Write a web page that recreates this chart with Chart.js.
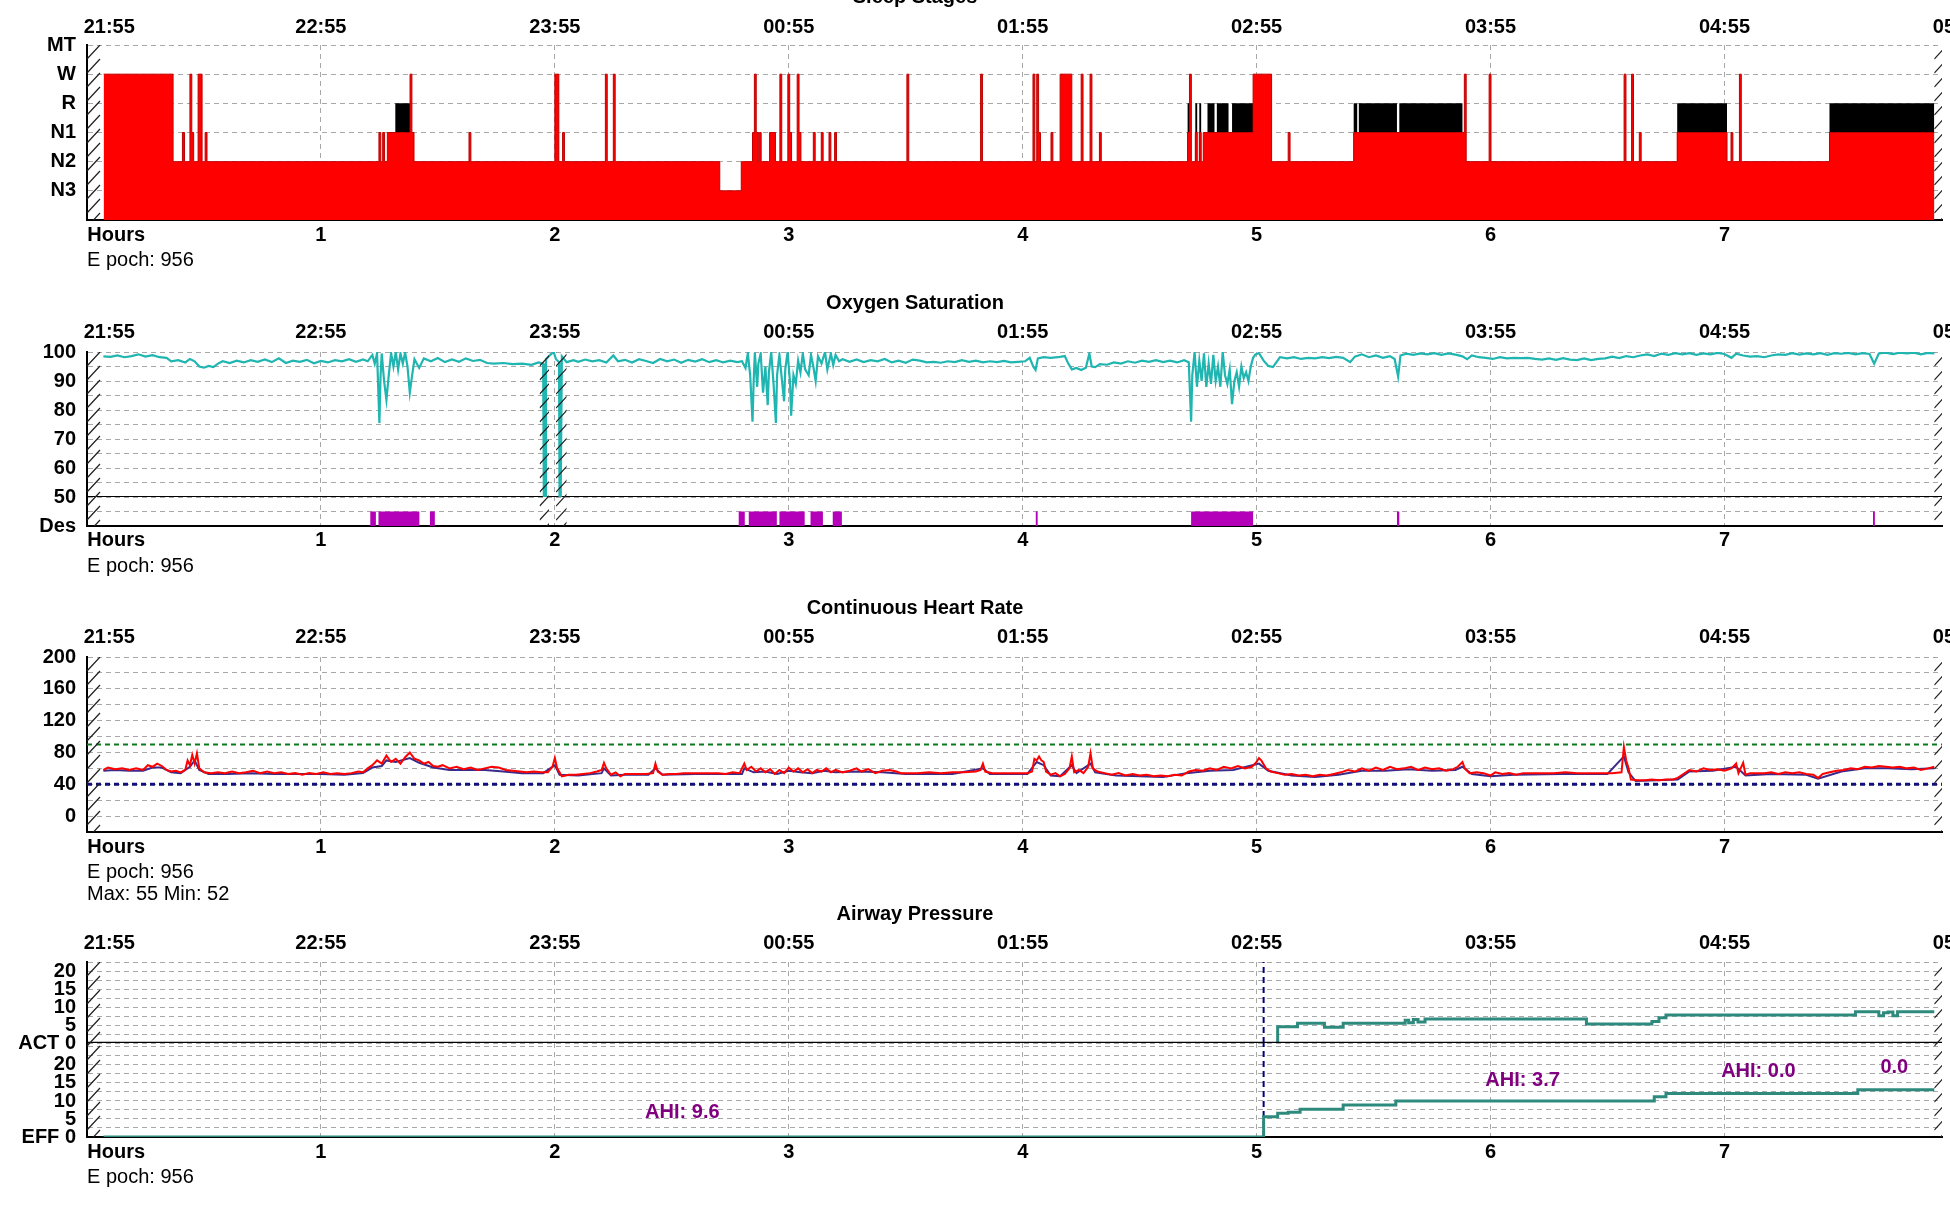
<!DOCTYPE html>
<html>
<head>
<meta charset="utf-8">
<script src="https://cdn.jsdelivr.net/npm/chart.js@4/dist/chart.umd.min.js"></script>
<style>
  html, body { margin: 0; background: #fff; }
  body { width: 1950px; height: 1205px; overflow: hidden; position: relative; }
  canvas { position: absolute; left: 0; }
</style>
</head>
<body>
<canvas id="stages" width="2000" height="285" style="top:0px"></canvas>
<canvas id="oxygen" width="2000" height="295" style="top:285px"></canvas>
<canvas id="heart" width="2000" height="312" style="top:588px"></canvas>
<canvas id="airway" width="2000" height="305" style="top:900px"></canvas>
<script>
// ---- data ----
const timeLabels = ['21:55', '22:55', '23:55', '00:55', '01:55', '02:55', '03:55', '04:55', '05:55'];
const hourLabels = ['Hours', '1', '2', '3', '4', '5', '6', '7'];
const stageNames = ['', 'N3', 'N2', 'N1', 'R', 'W', 'MT'];
const recordStart = 0.071;
const recordEnd = 7.897;
const epochNote = 'E poch: 956';
const hrNote = 'Max: 55 Min: 52';

// hypnogram: hour where each stage begins
const hypnoStart = [
  0.071, 0.368, 0.408, 0.417, 0.440, 0.448, 0.456, 0.475, 0.492, 0.505, 0.513,
  1.248, 1.256, 1.264, 1.272, 1.284, 1.318, 1.381, 1.389, 1.398, 1.633, 1.641,
  2.000, 2.017, 2.033, 2.041, 2.216, 2.224, 2.250, 2.258, 2.705, 2.797,
  2.845, 2.853, 2.861, 2.870, 2.874, 2.882, 2.918, 2.943, 2.962, 2.970, 2.996, 3.004, 3.012, 3.036, 3.044, 3.052,
  3.105, 3.113, 3.139, 3.147, 3.172, 3.180, 3.196, 3.204,
  3.505, 3.513, 3.820, 3.828,
  4.044, 4.052, 4.060, 4.068, 4.076, 4.121, 4.129, 4.160, 4.210, 4.250, 4.258, 4.288, 4.296, 4.328, 4.336,
  4.705, 4.713, 4.721, 4.738, 4.746, 4.755, 4.763, 4.772, 4.790, 4.820, 4.830, 4.880, 4.895, 4.985,
  5.064, 5.135, 5.143, 5.415, 5.430, 5.437, 5.600, 5.610, 5.880, 5.888, 5.896,
  5.994, 6.002, 6.571, 6.579, 6.603, 6.611, 6.636, 6.644, 6.798,
  7.011, 7.028, 7.036, 7.064, 7.072, 7.449
];
const hypnoStage = [
  'W', 'N2', 'N1', 'N2', 'W', 'N1', 'N2', 'W', 'N2', 'N1', 'N2',
  'N1', 'N2', 'N1', 'N2', 'N1', 'R', 'W', 'N1', 'N2', 'N1', 'N2',
  'W', 'N2', 'N1', 'N2', 'W', 'N2', 'W', 'N2', 'N3', 'N2',
  'N1', 'W', 'N1', 'N2', 'N1', 'N2', 'N1', 'N2', 'W', 'N2', 'W', 'N1', 'N2', 'W', 'N1', 'N2',
  'N1', 'N2', 'N1', 'N2', 'N1', 'N2', 'N1', 'N2',
  'W', 'N2', 'W', 'N2',
  'W', 'N2', 'W', 'N1', 'N2', 'N1', 'N2', 'W', 'N2', 'W', 'N2', 'W', 'N2', 'N1', 'N2',
  'R', 'W', 'N2', 'R', 'N2', 'R', 'N2', 'N1', 'R', 'N1', 'R', 'N1', 'R', 'W',
  'N2', 'N1', 'N2', 'R', 'N1', 'R', 'N1', 'R', 'N1', 'W', 'N2',
  'W', 'N2', 'W', 'N2', 'W', 'N2', 'N1', 'N2', 'R',
  'N2', 'N1', 'N2', 'W', 'N2', 'R'
];

// oxygen saturation (%)
const spo2Hour = [
  0.07, 0.10, 0.13, 0.16, 0.19, 0.22, 0.25, 0.28, 0.31, 0.34,
  0.36, 0.39, 0.42, 0.44, 0.46, 0.48, 0.50, 0.52, 0.54, 0.56,
  0.58, 0.61, 0.64, 0.67, 0.70, 0.73, 0.76, 0.79, 0.82, 0.85,
  0.88, 0.91, 0.94, 0.97, 1.00, 1.03, 1.06, 1.09, 1.12, 1.15,
  1.18, 1.20, 1.22, 1.23, 1.24, 1.25, 1.255, 1.26, 1.27, 1.28,
  1.29, 1.30, 1.31, 1.32, 1.33, 1.34, 1.35, 1.36, 1.37, 1.38,
  1.39, 1.40, 1.42, 1.44, 1.47, 1.50, 1.53, 1.56, 1.59, 1.62,
  1.65, 1.68, 1.71, 1.74, 1.78, 1.82, 1.86, 1.90, 1.93, 1.950,
  1.953, 1.958, 1.962, 1.98, 1.995, 2.005, 2.018, 2.020, 2.025, 2.030,
  2.05, 2.08, 2.10, 2.13, 2.16, 2.19, 2.22, 2.25, 2.27, 2.30,
  2.33, 2.36, 2.39, 2.42, 2.45, 2.48, 2.51, 2.54, 2.57, 2.60,
  2.63, 2.66, 2.69, 2.72, 2.75, 2.78, 2.80, 2.815, 2.825, 2.835,
  2.845, 2.85, 2.855, 2.865, 2.87, 2.88, 2.89, 2.90, 2.91, 2.915,
  2.925, 2.935, 2.945, 2.95, 2.96, 2.97, 2.98, 2.985, 2.995, 3.005,
  3.01, 3.02, 3.03, 3.04, 3.05, 3.06, 3.07, 3.085, 3.095, 3.105,
  3.115, 3.125, 3.14, 3.155, 3.165, 3.18, 3.19, 3.20, 3.215, 3.23,
  3.26, 3.29, 3.32, 3.35, 3.38, 3.41, 3.44, 3.47, 3.50, 3.53,
  3.56, 3.59, 3.62, 3.65, 3.68, 3.71, 3.74, 3.77, 3.80, 3.83,
  3.86, 3.89, 3.92, 3.95, 3.98, 4.01, 4.03, 4.045, 4.055, 4.065,
  4.09, 4.12, 4.15, 4.18, 4.195, 4.21, 4.23, 4.25, 4.27, 4.285,
  4.295, 4.31, 4.33, 4.36, 4.39, 4.42, 4.45, 4.48, 4.51, 4.54,
  4.57, 4.60, 4.63, 4.66, 4.69, 4.71, 4.72, 4.725, 4.735, 4.745,
  4.755, 4.765, 4.775, 4.785, 4.795, 4.805, 4.815, 4.825, 4.835, 4.845,
  4.855, 4.865, 4.875, 4.885, 4.895, 4.905, 4.915, 4.925, 4.935, 4.945,
  4.955, 4.965, 4.975, 4.985, 4.995, 5.01, 5.03, 5.05, 5.07, 5.085,
  5.10, 5.13, 5.16, 5.19, 5.22, 5.25, 5.28, 5.31, 5.34, 5.37,
  5.40, 5.42, 5.45, 5.48, 5.51, 5.54, 5.57, 5.59, 5.605, 5.615,
  5.64, 5.67, 5.70, 5.73, 5.76, 5.79, 5.82, 5.85, 5.88, 5.90,
  5.92, 5.95, 5.98, 6.01, 6.04, 6.07, 6.10, 6.13, 6.16, 6.19,
  6.22, 6.25, 6.28, 6.31, 6.34, 6.37, 6.40, 6.43, 6.46, 6.49,
  6.52, 6.55, 6.58, 6.61, 6.64, 6.67, 6.70, 6.73, 6.76, 6.79,
  6.82, 6.85, 6.88, 6.91, 6.94, 6.97, 7.00, 7.03, 7.05, 7.08,
  7.11, 7.14, 7.17, 7.20, 7.23, 7.26, 7.29, 7.32, 7.35, 7.38,
  7.41, 7.44, 7.47, 7.50, 7.53, 7.56, 7.59, 7.62, 7.64, 7.66,
  7.69, 7.72, 7.75, 7.78, 7.81, 7.84, 7.87, 7.897
];
const spo2Value = [
  98.5, 98.3, 98.8, 98.2, 98.6, 99.2, 98.4, 98.9, 98.2, 98.0,
  96.8, 97.2, 96.4, 97.6, 96.8, 95.0, 94.6, 95.2, 94.8, 96.0,
  96.8, 96.2, 97.0, 96.4, 97.2, 96.6, 97.4, 96.5, 97.8, 96.2,
  97.0, 96.6, 97.3, 96.1, 96.9, 96.4, 97.2, 96.8, 97.5, 96.6,
  97.4, 96.8, 99.0, 96.0, 99.5, 75.5, 92.0, 99.5, 90.0, 83.5,
  92.0, 99.6, 95.0, 100, 94.0, 99.5, 96.0, 99.8, 95.0, 86.0,
  92.0, 97.5, 94.5, 97.8, 96.8, 97.9, 96.5, 97.4, 96.6, 97.8,
  96.9, 97.3, 96.2, 96.0, 96.2, 95.8, 96.0, 95.6, 96.4, 96.0,
  50, 50, 97.5, 99.0, 100, 97.5, 96.5, 50, 50, 98.5,
  96.5, 97.2, 96.6, 97.4, 96.8, 97.2, 96.4, 98.8, 96.8, 97.3,
  96.4, 97.5, 96.9, 96.2, 97.6, 96.8, 97.4, 96.3, 97.3, 96.7,
  97.5, 96.5, 97.2, 96.4, 97.0, 96.5, 96.8, 94.5, 99.5, 92.0,
  76.0, 90.0, 99.8, 88.0, 96.0, 99.5, 86.0, 95.0, 81.7, 93.0,
  100, 89.0, 75.5, 92.0, 99.0, 91.0, 83.0, 94.0, 100, 90.0,
  78.0, 92.0, 89.0, 97.0, 93.0, 99.5, 94.0, 92.0, 99.0, 95.0,
  90.0, 98.5, 96.0, 100, 94.0, 99.5, 95.5, 99.0, 96.8, 97.5,
  96.6, 97.4, 96.5, 97.2, 96.8, 97.6, 96.4, 97.0, 96.3, 97.4,
  97.0, 96.4, 96.6, 96.3, 96.8, 96.5, 97.2, 96.6, 97.0, 96.4,
  96.8, 96.5, 96.9, 96.4, 96.6, 96.8, 98.0, 95.0, 93.8, 97.8,
  98.2, 98.0, 98.2, 98.6, 96.0, 94.0, 94.5, 93.8, 94.6, 99.5,
  95.0, 94.8, 95.8, 95.6, 96.4, 96.0, 96.8, 96.3, 97.0, 96.6,
  97.2, 96.5, 97.0, 96.4, 97.2, 96.5, 76.0, 92.0, 100, 88.0,
  97.0, 90.0, 99.5, 88.0, 96.0, 89.0, 99.0, 90.0, 95.0, 88.0,
  100, 92.0, 89.0, 94.0, 82.0, 90.0, 93.0, 88.0, 95.0, 91.0,
  93.0, 90.0, 95.0, 98.0, 99.2, 99.6, 97.0, 95.2, 94.8, 96.5,
  98.2, 97.8, 98.2, 97.6, 98.0, 97.8, 98.2, 97.9, 98.3, 98.0,
  96.5, 98.4, 99.2, 98.2, 98.8, 98.0, 98.6, 97.6, 91.5, 98.8,
  99.4, 99.0, 99.5, 99.2, 99.6, 99.0, 99.5, 99.1, 98.5, 97.5,
  98.8, 98.2, 98.0, 97.6, 98.2, 97.8, 98.0, 97.9, 98.0, 97.6,
  97.4, 97.8, 97.3, 97.9, 97.4, 97.2, 97.8, 97.2, 97.6, 97.8,
  98.4, 97.9, 98.6, 98.2, 98.8, 99.2, 98.6, 99.4, 99.0, 99.6,
  99.2, 99.6, 99.0, 99.5, 99.2, 99.7, 99.3, 98.0, 99.4, 98.8,
  98.4, 98.6, 98.2, 98.8, 99.2, 99.0, 99.6, 99.1, 99.5, 99.2,
  99.6, 99.0, 99.6, 99.4, 99.7, 99.2, 99.6, 99.3, 96.0, 99.5,
  99.8, 99.3, 99.8, 99.5, 99.8, 99.2, 99.7, 99.5
];
// artefact stretches and desaturation events (hours)
const spo2GapStart = [1.935, 2.005];
const spo2GapEnd = [1.975, 2.050];
const desStart = [1.211, 1.246, 1.466, 2.786, 2.829, 2.960, 3.093, 3.188, 4.056, 4.720, 5.600, 7.635];
const desEnd = [1.235, 1.421, 1.487, 2.812, 2.949, 3.068, 3.146, 3.227, 4.064, 4.985, 5.610, 7.643];

// continuous heart rate (bpm), two traces
const hrHour = [
  0.07, 0.09, 0.12, 0.15, 0.18, 0.21, 0.24, 0.26, 0.28, 0.30,
  0.32, 0.34, 0.36, 0.38, 0.40, 0.42, 0.43, 0.44, 0.45, 0.46,
  0.47, 0.48, 0.50, 0.53, 0.56, 0.59, 0.62, 0.65, 0.68, 0.71,
  0.74, 0.77, 0.80, 0.83, 0.86, 0.89, 0.92, 0.95, 0.98, 1.01,
  1.04, 1.07, 1.10, 1.13, 1.16, 1.18, 1.20, 1.22, 1.24, 1.26,
  1.28, 1.30, 1.32, 1.34, 1.36, 1.38, 1.40, 1.42, 1.44, 1.46,
  1.48, 1.50, 1.52, 1.55, 1.58, 1.61, 1.64, 1.67, 1.70, 1.73,
  1.76, 1.79, 1.82, 1.85, 1.88, 1.91, 1.94, 1.97, 1.99, 2.00,
  2.01, 2.03, 2.06, 2.09, 2.12, 2.15, 2.18, 2.20, 2.21, 2.22,
  2.24, 2.26, 2.28, 2.30, 2.33, 2.36, 2.39, 2.42, 2.43, 2.44,
  2.46, 2.49, 2.52, 2.55, 2.60, 2.65, 2.70, 2.73, 2.76, 2.79,
  2.81, 2.82, 2.84, 2.86, 2.88, 2.90, 2.92, 2.94, 2.96, 2.98,
  3.00, 3.02, 3.04, 3.06, 3.08, 3.10, 3.12, 3.14, 3.16, 3.18,
  3.20, 3.23, 3.26, 3.29, 3.31, 3.34, 3.37, 3.40, 3.43, 3.46,
  3.48, 3.50, 3.55, 3.60, 3.65, 3.70, 3.75, 3.80, 3.82, 3.83,
  3.84, 3.87, 3.92, 3.97, 4.02, 4.04, 4.05, 4.06, 4.07, 4.08,
  4.09, 4.10, 4.12, 4.14, 4.16, 4.18, 4.20, 4.21, 4.22, 4.24,
  4.26, 4.28, 4.29, 4.30, 4.32, 4.35, 4.38, 4.41, 4.44, 4.47,
  4.50, 4.53, 4.56, 4.59, 4.62, 4.65, 4.68, 4.71, 4.74, 4.77,
  4.80, 4.83, 4.86, 4.89, 4.92, 4.95, 4.98, 5.00, 5.01, 5.02,
  5.04, 5.06, 5.09, 5.12, 5.15, 5.18, 5.21, 5.24, 5.27, 5.30,
  5.33, 5.36, 5.39, 5.42, 5.45, 5.48, 5.51, 5.54, 5.57, 5.60,
  5.63, 5.66, 5.69, 5.72, 5.75, 5.78, 5.81, 5.84, 5.86, 5.88,
  5.89, 5.91, 5.94, 5.97, 6.00, 6.02, 6.05, 6.08, 6.11, 6.14,
  6.17, 6.22, 6.27, 6.32, 6.37, 6.42, 6.47, 6.52, 6.56, 6.57,
  6.58, 6.59, 6.60, 6.63, 6.66, 6.69, 6.72, 6.75, 6.78, 6.80,
  6.82, 6.85, 6.88, 6.91, 6.94, 6.97, 7.00, 7.03, 7.05, 7.06,
  7.08, 7.09, 7.11, 7.14, 7.17, 7.20, 7.23, 7.26, 7.29, 7.32,
  7.35, 7.38, 7.40, 7.42, 7.45, 7.48, 7.51, 7.54, 7.57, 7.60,
  7.63, 7.66, 7.69, 7.72, 7.75, 7.78, 7.81, 7.84, 7.87, 7.897
];
const hrRed = [
  58, 61, 59, 60, 58, 60, 58, 64, 62, 66,
  63, 58, 56, 57, 55, 58, 70, 64, 77, 66,
  79, 60, 55, 54, 55, 54, 56, 54, 55, 57,
  54, 56, 54, 55, 53, 54, 52, 54, 53, 55,
  53, 54, 53, 54, 56, 55, 60, 64, 70, 66,
  76, 68, 72, 66, 74, 80, 72, 70, 66, 68,
  63, 62, 64, 60, 62, 59, 61, 58, 60, 62,
  61, 58, 57, 56, 55, 56, 55, 55, 62, 73,
  60, 50, 52, 52, 53, 54, 56, 58, 67, 60,
  52, 55, 50, 53, 53, 53, 53, 54, 66, 56,
  52, 53, 53, 54, 54, 54, 54, 53, 55, 54,
  66, 58, 62, 56, 60, 55, 59, 53, 58, 54,
  61, 56, 60, 55, 59, 54, 58, 56, 60, 55,
  58, 55, 57, 60, 56, 59, 54, 57, 58, 56,
  54, 54, 54, 55, 54, 55, 55, 56, 58, 66,
  56, 54, 54, 54, 54, 56, 72, 70, 75, 70,
  68, 56, 52, 54, 50, 53, 60, 75, 55, 58,
  54, 62, 79, 60, 56, 54, 52, 54, 51, 53,
  51, 52, 50, 51, 50, 52, 51, 56, 58, 57,
  60, 58, 62, 60, 63, 60, 62, 68, 73, 70,
  60, 56, 54, 52, 53, 51, 52, 50, 52, 51,
  53, 55, 58, 56, 60, 57, 61, 58, 62, 59,
  60, 62, 58, 61, 59, 60, 57, 59, 62, 68,
  60, 54, 55, 54, 51, 55, 53, 54, 52, 54,
  54, 54, 54, 55, 54, 54, 54, 54, 55, 87,
  70, 60, 46, 45, 45, 46, 45, 46, 46, 48,
  52, 58, 56, 60, 58, 59, 57, 60, 66, 54,
  67, 52, 54, 54, 54, 55, 53, 55, 54, 55,
  53, 52, 48, 53, 55, 57, 58, 60, 59, 62,
  61, 63, 62, 61, 62, 60, 61, 58, 60, 62
];
const hrBlueHour = [
  0.07, 0.12, 0.18, 0.24, 0.28, 0.32, 0.36, 0.40, 0.44, 0.46,
  0.48, 0.52, 0.60, 0.70, 0.80, 0.90, 1.00, 1.10, 1.18, 1.22,
  1.26, 1.28, 1.32, 1.38, 1.42, 1.48, 1.55, 1.62, 1.70, 1.78,
  1.86, 1.95, 2.00, 2.02, 2.10, 2.20, 2.21, 2.24, 2.30, 2.40,
  2.43, 2.46, 2.60, 2.80, 2.81, 2.85, 2.90, 2.95, 3.00, 3.05,
  3.10, 3.15, 3.20, 3.30, 3.40, 3.50, 3.70, 3.83, 3.86, 4.02,
  4.06, 4.09, 4.12, 4.16, 4.21, 4.23, 4.29, 4.31, 4.40, 4.50,
  4.60, 4.70, 4.80, 4.90, 5.01, 5.05, 5.15, 5.25, 5.35, 5.45,
  5.55, 5.65, 5.75, 5.85, 5.88, 5.92, 6.00, 6.10, 6.30, 6.50,
  6.57, 6.59, 6.62, 6.80, 6.85, 6.95, 7.05, 7.09, 7.20, 7.35,
  7.40, 7.50, 7.60, 7.70, 7.80, 7.897
];
const hrBlue = [
  57, 58, 57, 57, 61, 61, 55, 54, 62, 70,
  58, 53, 53, 54, 53, 53, 53, 52, 54, 61,
  63, 70, 68, 73, 67, 61, 58, 58, 58, 56,
  54, 54, 64, 52, 51, 54, 60, 51, 52, 52,
  60, 52, 53, 53, 60, 55, 56, 53, 57, 55,
  54, 57, 55, 56, 55, 53, 53, 60, 53, 53,
  68, 64, 51, 50, 64, 54, 66, 55, 51, 50,
  49, 54, 57, 58, 66, 57, 51, 49, 52, 57,
  57, 59, 57, 58, 62, 53, 50, 52, 53, 53,
  75, 55, 44, 46, 56, 57, 62, 51, 53, 52,
  47, 56, 60, 60, 59, 60
];
const hrUpperLimit = 90;
const hrLowerLimit = 40;

// airway pressure (cmH2O)
const actHour = [5.085, 5.09, 5.175, 5.29, 5.37, 5.635, 5.65, 5.67, 5.69, 5.72, 6.41, 6.69, 6.72, 6.75, 7.56, 7.66, 7.68, 7.70, 7.72, 7.74, 7.897];
const actValue = [0, 4.5, 5.5, 4.4, 5.5, 6.3, 5.6, 6.5, 5.8, 6.7, 5.3, 6.0, 7.0, 7.8, 8.7, 7.6, 8.4, 8.6, 7.6, 8.7, 8.7];
const effHour = [0.071, 5.03, 5.09, 5.135, 5.186, 5.37, 5.595, 6.70, 6.75, 7.57, 7.897];
const effValue = [0, 5.6, 6.6, 6.9, 7.7, 8.9, 10.0, 11.2, 12.1, 13.1, 13.1];
const pressureOnHour = 5.03;
const ahiText = ['AHI: 9.6', 'AHI: 3.7', 'AHI: 0.0', '0.0'];
const ahiHour = [2.545, 6.137, 7.145, 7.726];
const ahiLevel = [6.7, 15.8, 18.1, 19.2];

// ---- look ----
const FONT = "'Liberation Sans', Arial, sans-serif";
const X_MAX = 7.93;
const HOURS_LABEL_AT = 0.125;  // 'Hours' and the first clock time sit just right of the origin
const START_TIME_AT = 0.095;
const ACT_MAX = 22.5;
const EFF_MAX = 26.1;
const GRID = '#a8a8a8';
const TITLE_X = 915;

Chart.defaults.font.family = FONT;
Chart.defaults.font.size = 20;
Chart.defaults.font.weight = 'bold';
Chart.defaults.color = '#000';

const hourTicks = hourLabels.map((t, i) => i === 0 ? HOURS_LABEL_AT : i);
const timeTicks = timeLabels.map((t, i) => i === 0 ? START_TIME_AT : i);
const zip = (xs, ys) => xs.map((x, i) => ({ x: x, y: ys[i] }));

function stagePoints(valueOf) {
  const pts = hypnoStart.map((h, i) => ({ x: h, y: valueOf(hypnoStage[i]) }));
  pts.push({ x: recordEnd, y: pts[pts.length - 1].y });
  return pts;
}
const stageLevel = { W: 5, R: 4, N1: 3, N2: 2, N3: 1 };

function desPoints() {
  const pts = [{ x: recordStart, y: 0 }];
  desStart.forEach((s, i) => { pts.push({ x: s, y: 1 }, { x: desEnd[i], y: 0 }); });
  pts.push({ x: recordEnd, y: 0 });
  return pts;
}

// diagonal hatching over the stretches with no data
const hatchPlugin = {
  id: 'hatch',
  afterDatasetsDraw(chart, args, opts) {
    const regions = opts.regions || [];
    const { ctx, chartArea: a } = chart;
    const x = chart.scales.x;
    ctx.save();
    ctx.strokeStyle = '#222';
    ctx.lineWidth = 1.2;
    regions.forEach(([h0, h1]) => {
      const x0 = x.getPixelForValue(h0), x1 = x.getPixelForValue(h1);
      ctx.save();
      ctx.beginPath();
      ctx.rect(x0, a.top, x1 - x0, a.bottom - a.top);
      ctx.clip();
      ctx.beginPath();
      for (let y = a.top; y < a.bottom + 16; y += 14) {
        ctx.moveTo(x0, y);
        ctx.lineTo(x0 + 13, y - 14);
      }
      ctx.stroke();
      ctx.restore();
    });
    ctx.restore();
  }
};

// panel title and the notes under the hour axis
const notesPlugin = {
  id: 'notes',
  afterDraw(chart, args, opts) {
    const { ctx, chartArea } = chart;
    ctx.save();
    ctx.fillStyle = '#000';
    ctx.textBaseline = 'middle';
    if (opts.title) {
      ctx.font = 'bold 20px ' + FONT;
      ctx.textAlign = 'center';
      ctx.fillText(opts.title, TITLE_X, opts.titleY);
    }
    ctx.font = '20px ' + FONT;
    ctx.textAlign = 'left';
    (opts.lines || []).forEach(([text, y]) => ctx.fillText(text, chartArea.left, y));
    ctx.restore();
  }
};
Chart.register(hatchPlugin, notesPlugin);

const ahiPlugin = {
  id: 'ahi',
  afterDatasetsDraw(chart) {
    const { ctx, scales } = chart;
    ctx.save();
    ctx.fillStyle = '#800080';
    ctx.font = 'bold 20px ' + FONT;
    ctx.textAlign = 'center';
    ctx.textBaseline = 'middle';
    ahiText.forEach((t, i) => {
      ctx.fillText(t, scales.x.getPixelForValue(ahiHour[i]), scales.yEff.getPixelForValue(ahiLevel[i]));
    });
    ctx.restore();
  }
};

function timeAxes(p) {
  return {
    x: {
      type: 'linear', position: 'bottom', min: 0, max: X_MAX,
      afterBuildTicks: s => { s.ticks = hourTicks.map(v => ({ value: v })); },
      afterFit: s => { s.height = p.bottomH; },
      ticks: { padding: p.bottomPad, autoSkip: false, maxRotation: 0, callback: (v, i) => hourLabels[i] },
      grid: {
        drawTicks: false,
        color: c => (c.tick && Number.isInteger(c.tick.value) && c.tick.value > 0) ? GRID : 'rgba(0,0,0,0)'
      },
      border: { display: true, color: '#000', width: 2, dash: [5, 4] }
    },
    xTime: {
      type: 'linear', position: 'top', min: 0, max: X_MAX,
      afterBuildTicks: s => { s.ticks = timeTicks.map(v => ({ value: v })); },
      afterFit: s => { s.height = p.topH; },
      ticks: { padding: p.topPad, autoSkip: false, maxRotation: 0, callback: (v, i) => timeLabels[i] },
      grid: { display: false, drawTicks: false },
      border: { display: false }
    }
  };
}

function yAxis(o) {
  const ticks = Object.assign({ padding: 11, autoSkip: false }, o.ticks);
  return Object.assign({
    type: 'linear',
    afterFit: s => { s.width = 87; },
    grid: { drawTicks: false, color: GRID },
    border: { display: true, color: '#000', width: 2, dash: [5, 4] }
  }, o, { ticks: ticks });
}

function makePanel(id, p, datasets, extraPlugins) {
  return new Chart(document.getElementById(id), {
    type: 'line',
    data: { datasets: datasets },
    plugins: extraPlugins || [],
    options: {
      responsive: false,
      animation: false,
      devicePixelRatio: 1,
      layout: { padding: { left: 0, right: 58, top: 0, bottom: 0 } },
      elements: { point: { radius: 0 }, line: { tension: 0 } },
      plugins: {
        legend: { display: false },
        tooltip: { enabled: false },
        hatch: { regions: p.hatch },
        notes: { title: p.title, titleY: p.titleY, lines: p.lines }
      },
      scales: Object.assign(timeAxes(p), p.yScales)
    }
  });
}

const edgeHatch = [[0, recordStart], [recordEnd, X_MAX]];

// ---- Sleep stages ----
makePanel('stages', {
  topH: 45, topPad: 6, bottomH: 65, bottomPad: 3,
  title: 'Sleep Stages', titleY: -3,
  lines: [[epochNote, 260]],
  hatch: edgeHatch,
  yScales: {
    y: yAxis({ min: 0, max: 6, ticks: { stepSize: 1, callback: v => stageNames[v] } })
  }
}, [
  {
    data: stagePoints(s => s === 'R' ? stageLevel.N1 : stageLevel[s]),
    stepped: true, fill: 'origin',
    backgroundColor: '#ff0000', borderColor: '#c00000', borderWidth: 1
  },
  {
    data: stagePoints(s => s === 'R' ? stageLevel.R : 0),
    stepped: true, fill: 'origin',
    backgroundColor: '#000000', borderColor: '#000000', borderWidth: 0
  }
]);

// ---- Oxygen saturation ----
makePanel('oxygen', {
  topH: 67, topPad: 8, bottomH: 54, bottomPad: 2,
  title: 'Oxygen Saturation', titleY: 18,
  lines: [[epochNote, 281]],
  hatch: edgeHatch.concat(spo2GapStart.map((s, i) => [s, spo2GapEnd[i]])),
  yScales: {
    y: yAxis({
      min: 50, max: 100, stack: 'spo2', stackWeight: 5, weight: 2,
      ticks: { stepSize: 5, callback: v => v % 10 === 0 ? v : '' }
    }),
    yDes: yAxis({
      min: 0, max: 2, stack: 'spo2', stackWeight: 1, weight: 1,
      ticks: { stepSize: 1, callback: v => v === 0 ? 'Des' : '' }
    })
  }
}, [
  { data: zip(spo2Hour, spo2Value), borderColor: '#1fb5b0', borderWidth: 2.2, yAxisID: 'y' },
  { data: [{ x: 0, y: 50 }, { x: X_MAX, y: 50 }], borderColor: '#000', borderWidth: 2, yAxisID: 'y' },
  {
    data: desPoints(), yAxisID: 'yDes', stepped: true, fill: 'origin',
    backgroundColor: '#b400b8', borderColor: '#b400b8', borderWidth: 0
  }
]);

// ---- Continuous heart rate ----
makePanel('heart', {
  topH: 69, topPad: 8, bottomH: 68, bottomPad: 3,
  title: 'Continuous Heart Rate', titleY: 20,
  lines: [[epochNote, 284], [hrNote, 306]],
  hatch: edgeHatch,
  yScales: {
    y: yAxis({
      min: -20, max: 200,
      ticks: { stepSize: 20, callback: v => (v >= 0 && v % 40 === 0) ? v : '' }
    })
  }
}, [
  { data: zip(hrHour, hrRed), borderColor: '#ff0000', borderWidth: 2 },
  { data: zip(hrBlueHour, hrBlue), borderColor: '#3a2a8c', borderWidth: 2 },
  { data: [{ x: 0, y: hrUpperLimit }, { x: X_MAX, y: hrUpperLimit }], borderColor: '#0a7a1e', borderWidth: 2, borderDash: [5, 4] },
  { data: [{ x: 0, y: hrLowerLimit }, { x: X_MAX, y: hrLowerLimit }], borderColor: '#10107a', borderWidth: 3, borderDash: [5, 4] }
]);

// ---- Airway pressure ----
makePanel('airway', {
  topH: 62, topPad: 7, bottomH: 68, bottomPad: 3,
  title: 'Airway Pressure', titleY: 14,
  lines: [[epochNote, 277]],
  hatch: edgeHatch,
  yScales: {
    yAct: yAxis({
      min: 0, max: ACT_MAX, stack: 'ap', stackWeight: 81, weight: 2,
      ticks: { stepSize: 2.5, callback: v => v === 0 ? 'ACT 0' : (v % 5 === 0 && v <= 20 ? v : '') }
    }),
    yEff: yAxis({
      min: 0, max: EFF_MAX, stack: 'ap', stackWeight: 94, weight: 1,
      ticks: { stepSize: 2.5, includeBounds: false, callback: v => v === 0 ? 'EFF 0' : (v % 5 === 0 && v <= 20 ? v : '') }
    })
  }
}, [
  { data: [{ x: 0, y: 0 }, { x: X_MAX, y: 0 }], yAxisID: 'yAct', borderColor: '#000', borderWidth: 2.5 },
  { data: zip(actHour, actValue), yAxisID: 'yAct', stepped: true, borderColor: '#2f8a7e', borderWidth: 3 },
  { data: zip(effHour, effValue), yAxisID: 'yEff', stepped: true, borderColor: '#2f8a7e', borderWidth: 3 },
  { data: [{ x: pressureOnHour, y: 0 }, { x: pressureOnHour, y: ACT_MAX }], yAxisID: 'yAct', borderColor: '#000080', borderWidth: 2, borderDash: [6, 4] },
  { data: [{ x: pressureOnHour, y: 0 }, { x: pressureOnHour, y: EFF_MAX }], yAxisID: 'yEff', borderColor: '#000080', borderWidth: 2, borderDash: [6, 4] }
], [ahiPlugin]);
</script>
</body>
</html>
